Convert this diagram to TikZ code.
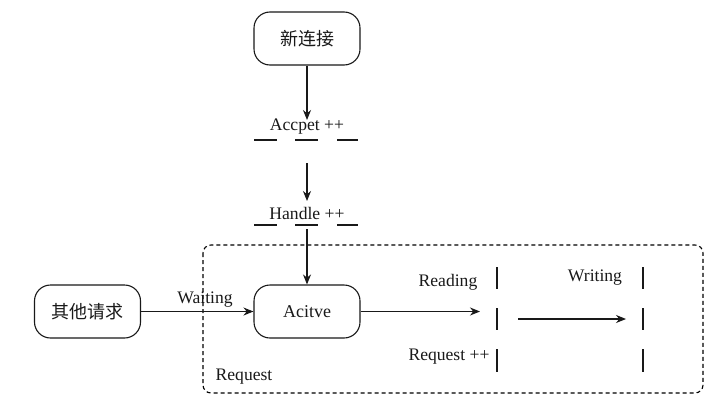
\documentclass[tikz,border=0pt]{standalone}
\usepackage{fontspec}
\setmainfont{Liberation Serif}
\newfontfamily\cjk{Noto Sans CJK SC}
\usetikzlibrary{arrows.meta}
\begin{document}
\begin{tikzpicture}[x=1pt,y=-1pt,
  stbox/.style={draw,line width=1.1pt,rounded corners=16pt,minimum width=106pt,minimum height=53pt,inner sep=0pt,font=\fontsize{18}{20}\selectfont},
  lbl/.style={inner sep=0pt,font=\fontsize{17.6}{20}\selectfont},
  conn/.style={line width=1.1pt,-{Stealth[length=10pt,width=8pt]}},
  bar/.style={line width=2.4pt},
  color=black!90]
\useasboundingbox (0,0) rectangle (719,412);
% dashed region
\draw[black,line width=1.1pt,dash pattern=on 4pt off 3pt,rounded corners=8pt] (203,245) rectangle (703,393);
\node[stbox] (new) at (307,38.5) {\cjk 新连接};
\node[stbox] (act) at (307,311.5) {Acitve};
\node[stbox] (oth) at (87.5,311.5) {\cjk 其他请求};
\node[lbl] (acc) at (307,127) {Accpet ++};
\node[lbl] (hnd) at (307,213) {Handle ++};
\node[lbl] (wait) at (205,300) {Waiting};
\node[lbl] (req) at (244,377) {Request};
\node[lbl] (rd) at (448,282) {Reading};
\node[lbl] (wr) at (595,278) {Writing};
\node[lbl] (reqpp) at (449,357) {Request ++};
% dash bars
\foreach \y in {140,225}{
  \draw[bar] (254,\y) -- (277,\y);
  \draw[bar] (295,\y) -- (318,\y);
  \draw[bar] (337,\y) -- (358,\y);
}
\foreach \x in {497,643}{
  \draw[bar,line width=2pt] (\x,267) -- (\x,289);
  \draw[bar,line width=2pt] (\x,308) -- (\x,330);
  \draw[bar,line width=2pt] (\x,349) -- (\x,372);
}
\coordinate (a1) at (307,120);
\coordinate (a2) at (307,163);
\coordinate (a3) at (307,201);
\coordinate (a4) at (307,229);
\coordinate (rdin) at (480,311.5);
\coordinate (rwa) at (518,319);
\coordinate (rwb) at (626,319);
\draw[conn] (new.south) -- (a1);
\draw[conn] (a2) -- (a3);
\draw[conn] (a4) -- (act.north);
\draw[conn] (oth.east) -- (act.west);
\draw[conn] (act.east) -- (rdin);
\draw[conn] (rwa) -- (rwb);
\end{tikzpicture}
\end{document}
